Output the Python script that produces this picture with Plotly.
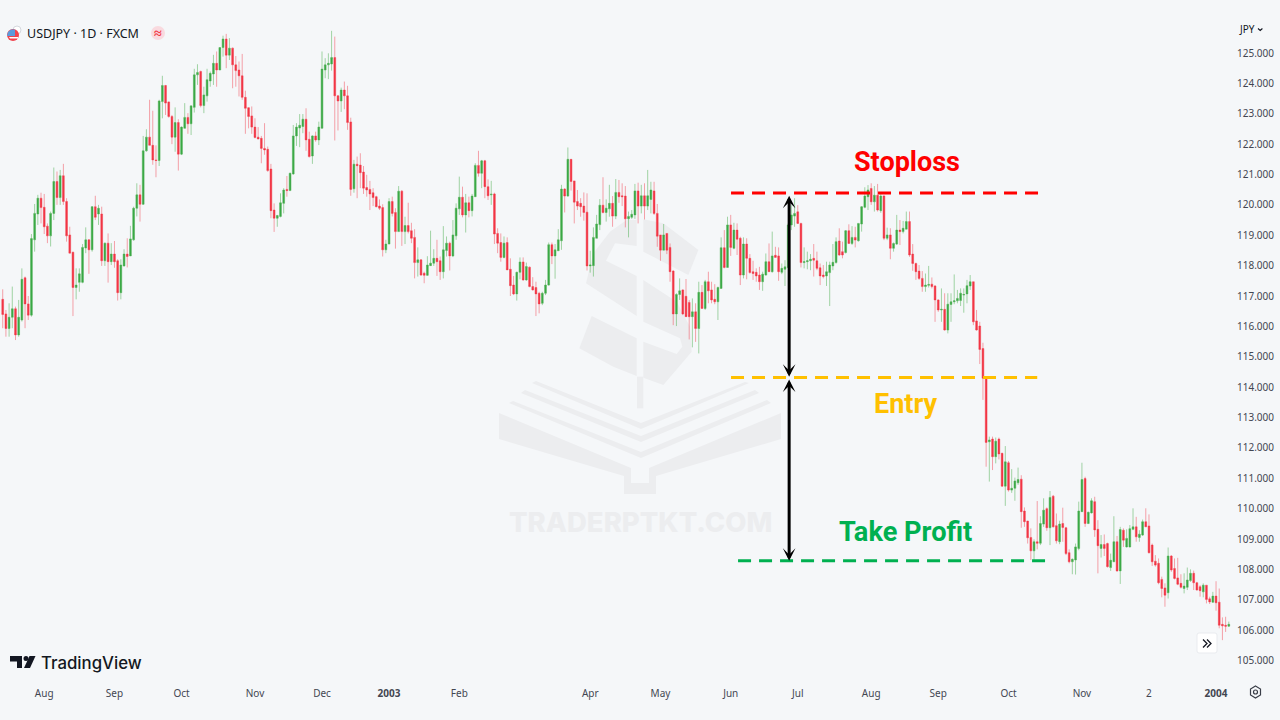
import plotly.graph_objects as go

# daily USDJPY bars, one value per bar
opens = [
    116.89,116.41,115.93,116.30,116.58,115.72,116.21,117.60,116.74,116.37,118.85,119.70,120.22,119.92,119.30,118.98,119.72,120.77,120.24,120.96,
    120.11,119.01,118.44,117.28,117.45,117.45,118.58,118.85,118.52,119.94,119.70,119.70,118.16,118.74,118.13,118.38,118.16,117.11,117.99,118.38,
    118.32,118.85,119.89,120.33,120.02,121.78,122.23,121.96,121.48,121.46,123.40,123.93,123.39,122.91,122.23,122.71,121.67,122.52,122.88,122.67,
    123.21,124.28,124.39,123.27,123.59,124.08,124.31,124.66,124.44,125.18,125.46,124.93,125.16,124.61,124.44,124.25,123.54,123.20,122.93,122.56,
    122.23,122.19,121.86,121.83,121.18,119.83,119.56,119.62,120.05,120.51,120.47,121.02,122.27,122.53,122.58,122.82,122.16,121.61,122.27,122.14,
    122.52,124.44,124.61,124.64,124.85,123.59,123.42,123.78,123.59,122.73,120.53,121.34,121.31,121.08,120.57,120.51,120.40,120.27,119.96,119.91,
    118.52,118.71,120.11,119.75,119.12,120.45,119.12,119.32,119.15,118.93,118.10,118.19,117.75,117.68,118.00,118.08,118.24,118.16,117.80,118.50,
    118.74,118.32,118.98,119.87,120.25,119.67,120.07,119.81,120.27,121.30,121.04,121.45,120.60,120.33,120.36,119.06,118.76,118.27,118.76,117.88,
    117.36,117.07,117.78,118.12,117.53,117.95,117.31,117.28,117.09,116.76,117.09,117.36,118.69,118.32,118.49,118.82,120.52,120.29,121.50,120.79,
    120.11,120.05,119.96,119.76,117.99,118.00,118.90,119.35,119.99,119.75,119.87,120.05,119.63,120.41,120.30,120.29,119.54,119.59,119.67,120.46,
    119.96,120.30,119.96,120.18,120.46,119.72,119.01,118.51,119.06,118.60,117.82,116.41,117.05,117.20,116.99,116.79,116.32,116.48,115.93,117.12,
    116.59,117.47,117.20,116.89,116.81,117.25,118.59,117.94,119.34,118.57,119.17,118.90,117.69,118.71,118.24,117.80,117.78,117.69,117.47,117.69,
    118.13,117.80,118.34,118.32,117.78,117.88,117.94,119.34,119.63,119.77,119.39,118.10,118.13,118.16,118.24,118.16,117.93,117.69,117.66,117.77,
    117.99,118.10,118.81,118.46,118.43,119.15,118.73,118.93,118.82,119.37,119.92,120.27,120.54,120.10,120.32,119.81,120.29,118.90,119.01,118.57,
    118.71,119.17,119.12,119.20,119.45,118.38,118.07,117.82,117.58,117.31,117.35,117.39,117.33,116.87,116.54,116.56,115.88,116.72,116.81,116.84,
    116.85,117.03,117.07,117.33,117.47,116.18,116.01,115.27,114.29,112.20,112.29,111.71,112.29,111.82,110.74,111.51,110.61,110.67,110.85,110.97,
    109.92,109.59,109.05,108.61,108.91,108.86,109.49,110.00,109.37,110.41,109.44,108.91,109.51,109.37,108.55,108.25,108.31,108.69,109.90,110.99,
    109.51,109.86,110.23,109.32,108.69,108.82,108.85,108.06,108.25,108.91,107.95,109.29,108.74,108.74,109.32,109.40,109.05,109.13,109.57,109.43,
    108.80,108.27,108.20,107.67,107.39,107.23,108.44,108.03,107.72,107.54,107.37,107.41,107.63,107.87,107.56,107.43,107.26,107.48,107.03,106.92,
    107.12,106.92,106.19,106.16,106.13,
]
highs = [
    117.22,116.54,116.76,117.31,116.65,116.87,117.91,117.64,117.00,119.04,120.03,120.33,120.40,120.36,119.39,119.78,121.23,121.10,121.15,121.35,
    120.22,119.28,118.46,117.91,117.91,118.71,119.26,118.87,119.96,120.30,120.00,119.94,118.76,119.06,118.74,118.81,118.21,118.21,118.54,118.90,
    119.31,119.94,120.71,120.66,122.27,122.49,123.46,123.10,121.96,123.46,124.25,123.95,123.40,122.96,123.21,122.82,122.58,123.35,123.02,123.26,
    124.48,124.63,124.42,123.89,124.48,124.39,124.94,125.05,125.18,125.57,125.63,125.49,125.18,124.90,124.72,124.97,123.76,123.21,123.24,122.85,
    122.56,122.27,122.69,121.92,121.35,120.05,119.67,120.38,120.55,120.95,121.06,122.63,122.69,122.99,122.99,123.18,122.41,122.29,122.41,122.74,
    125.05,124.83,124.99,125.73,125.54,123.62,123.86,124.06,123.92,122.87,121.48,121.59,121.70,121.28,120.99,120.79,120.55,120.30,120.18,120.02,
    118.85,120.22,120.27,119.89,120.62,120.49,119.61,120.07,119.41,119.20,118.60,118.21,117.80,118.31,119.15,118.54,118.85,118.30,119.30,118.96,
    118.79,119.50,120.05,120.93,120.60,120.36,120.27,120.36,121.37,121.78,121.48,121.48,120.84,120.79,120.40,119.23,119.06,118.96,118.93,118.24,
    117.66,117.80,118.27,118.27,118.10,117.97,117.62,117.47,117.14,117.14,117.53,118.76,118.76,118.71,119.20,120.66,120.55,121.89,121.50,120.79,
    120.49,120.22,120.41,120.38,118.49,119.26,119.67,120.19,120.91,120.18,120.66,120.29,120.85,120.82,120.71,120.62,119.78,119.83,120.69,120.73,
    120.66,120.71,121.15,120.76,120.76,120.03,119.01,119.37,119.06,118.73,117.85,117.09,117.58,117.22,117.56,116.87,116.92,116.76,117.47,117.36,
    117.53,117.80,117.47,117.39,117.31,118.93,119.17,119.61,119.67,119.41,119.39,118.95,118.93,118.90,118.38,118.16,117.91,117.96,117.80,118.40,
    118.73,119.12,118.62,118.60,118.07,118.18,119.39,119.99,120.22,119.99,119.41,118.60,118.46,118.38,118.71,118.46,118.07,118.02,118.13,118.13,
    118.71,118.93,119.23,118.79,119.17,119.36,119.30,119.28,119.39,119.96,120.58,120.65,120.71,120.62,120.69,120.38,120.32,119.25,119.23,118.76,
    119.67,119.50,119.47,119.78,119.78,118.71,118.10,118.02,117.82,117.74,117.99,117.61,117.36,116.89,117.25,117.09,117.09,117.09,117.71,117.20,
    117.25,117.25,117.53,117.69,117.47,116.54,116.15,115.46,114.29,112.37,112.37,112.34,112.34,111.84,112.06,111.57,111.30,111.02,111.35,111.10,
    110.04,109.60,109.35,108.99,110.25,109.75,110.34,110.04,110.58,110.45,109.84,109.60,110.03,109.40,108.66,108.36,108.85,110.23,111.51,111.05,
    109.90,110.34,110.39,109.62,109.13,109.15,108.88,108.52,109.75,109.10,109.40,109.35,109.32,109.46,110.01,109.73,109.29,109.64,110.01,109.81,
    108.85,108.47,108.36,107.76,107.54,108.72,108.47,108.36,108.38,107.84,107.87,108.06,108.00,107.96,107.59,107.48,107.54,107.48,107.10,107.26,
    107.61,107.37,106.42,106.44,106.28,
]
lows = [
    115.94,115.66,115.66,115.94,115.55,115.66,116.16,115.94,116.21,116.32,118.46,119.34,119.39,119.04,118.74,118.63,119.50,120.00,120.00,120.00,
    118.79,118.41,116.34,116.89,117.14,117.42,118.41,117.73,118.46,119.50,119.34,117.99,117.99,117.44,118.02,117.93,116.85,116.89,117.97,117.94,
    118.32,118.82,119.62,119.45,120.00,121.75,121.96,121.32,120.91,121.28,122.85,122.96,122.87,122.00,121.75,121.13,121.64,122.52,122.34,122.30,
    123.04,123.95,123.21,123.02,123.40,123.89,123.95,123.89,124.44,124.88,124.50,124.77,123.84,123.89,123.57,123.46,122.34,122.52,122.34,122.19,
    122.16,121.37,121.65,121.09,119.56,119.11,119.28,119.59,119.72,120.27,120.47,120.99,121.94,121.90,122.36,121.78,121.56,121.35,122.08,121.97,
    122.52,124.17,124.14,124.42,122.12,122.45,123.06,123.15,122.47,120.30,120.40,120.22,120.55,120.36,120.27,119.83,119.96,119.92,119.83,118.30,
    118.41,118.71,119.62,118.56,119.12,118.65,118.71,119.06,118.74,117.58,117.64,117.66,117.42,117.66,117.99,117.99,117.66,117.53,117.58,118.30,
    117.84,118.28,118.85,119.67,119.59,119.09,119.59,119.62,120.27,120.93,120.55,120.22,120.16,120.00,118.71,118.41,118.13,118.24,117.86,117.00,
    117.03,116.85,117.55,117.50,117.50,117.29,117.18,116.34,116.43,116.70,117.03,117.34,118.05,117.57,118.49,118.52,119.75,120.27,120.47,119.39,
    119.83,119.61,119.48,117.84,117.77,117.64,118.90,119.17,119.72,119.45,119.61,119.28,119.53,120.07,119.96,119.26,118.93,119.54,119.54,119.39,
    119.72,119.52,119.83,119.72,119.67,118.62,118.16,118.51,118.38,117.47,116.04,116.01,116.87,116.37,116.32,115.57,115.31,115.49,115.11,116.59,
    116.54,116.76,116.76,116.73,116.21,117.25,117.91,117.94,118.32,118.54,118.35,117.36,117.58,117.55,117.74,117.53,117.47,117.20,117.17,117.67,
    117.80,117.77,118.27,117.50,117.72,117.33,117.91,119.17,119.28,119.37,117.94,117.91,117.88,117.85,117.64,117.85,117.36,117.58,117.33,116.67,
    117.85,118.07,118.32,118.24,118.40,118.71,118.68,118.60,118.79,119.12,119.89,119.83,120.00,119.78,119.78,119.74,118.84,118.84,118.21,118.46,
    118.68,118.68,119.06,119.20,118.29,117.83,117.53,117.53,117.14,117.14,117.28,117.25,116.15,116.48,116.15,115.86,115.77,116.15,116.73,116.76,
    116.67,116.45,116.76,117.20,116.04,115.86,114.76,113.58,111.38,110.89,111.27,111.49,111.62,110.72,110.09,110.56,110.52,110.26,110.78,109.37,
    109.40,108.85,108.31,108.31,108.66,108.80,109.40,109.27,108.80,109.38,108.85,108.83,108.91,108.47,108.20,107.84,107.83,108.63,109.90,109.40,
    109.49,109.84,109.07,107.87,108.39,108.44,108.06,107.95,108.25,107.92,107.52,108.74,108.72,108.72,109.29,108.91,108.91,109.10,109.40,108.52,
    108.11,108.09,107.51,107.08,106.77,107.04,107.92,107.67,107.48,107.37,107.21,107.32,107.59,107.32,107.30,107.10,107.08,106.88,106.86,106.90,
    106.64,106.06,105.67,105.94,106.11,
]
closes = [
    116.39,115.93,116.30,116.58,115.72,116.30,117.55,116.74,116.37,118.89,119.72,120.22,119.91,119.28,118.98,119.72,120.77,120.24,120.96,120.11,
    118.98,118.41,117.28,117.36,117.73,118.60,118.85,118.52,119.94,119.59,119.89,118.16,118.74,118.13,118.38,118.13,117.11,118.02,118.38,118.30,
    118.88,119.89,120.33,120.02,121.78,122.23,121.96,121.48,121.46,123.42,123.93,123.35,122.91,122.23,122.71,121.67,122.56,122.88,122.67,123.26,
    124.28,124.36,123.27,123.62,124.12,124.33,124.66,124.44,125.18,125.46,124.93,125.16,124.61,124.42,124.25,123.54,123.18,122.91,122.56,122.22,
    122.17,121.86,121.81,121.13,119.81,119.56,119.65,120.07,120.49,120.47,121.04,122.27,122.56,122.62,122.82,122.14,121.59,122.27,122.14,122.56,
    124.47,124.61,124.66,124.85,123.59,123.42,123.78,123.59,122.71,120.51,121.34,121.29,121.06,120.55,120.49,120.36,120.24,119.94,119.89,118.52,
    118.71,120.11,119.72,119.12,120.45,119.12,119.32,119.12,118.90,118.10,118.19,117.69,117.68,118.02,118.08,118.24,118.13,117.80,118.52,118.74,
    118.32,119.01,119.89,120.25,119.67,120.07,119.81,120.29,121.30,121.04,121.45,120.60,120.30,120.35,119.04,118.74,118.27,118.74,117.86,117.34,
    117.07,117.78,118.12,117.53,117.97,117.31,117.20,117.07,116.74,117.09,117.36,118.69,118.32,118.52,118.85,120.52,120.29,121.50,120.77,120.09,
    119.96,119.94,119.75,117.99,118.02,118.93,119.37,119.99,119.75,119.89,120.05,119.63,120.41,120.27,120.27,119.54,119.62,119.69,120.46,119.96,
    120.30,119.96,120.30,120.49,119.72,118.97,118.51,119.01,118.51,117.80,116.41,117.05,117.17,116.41,116.32,116.32,116.48,115.93,117.12,116.59,
    117.47,117.17,116.87,116.81,117.28,118.59,117.94,119.34,118.60,119.17,118.87,117.69,118.71,118.24,117.77,117.74,117.66,117.47,117.72,118.13,
    117.80,118.32,118.27,117.80,117.91,117.96,119.34,119.67,119.72,119.39,118.10,118.13,118.16,118.21,118.18,117.91,117.66,117.64,117.80,118.02,
    118.11,118.79,118.35,118.35,119.15,118.73,118.93,118.84,119.39,119.94,120.29,120.49,120.10,120.32,119.83,120.29,118.90,119.01,118.57,118.73,
    119.17,119.12,119.23,119.45,118.35,118.07,117.80,117.58,117.31,117.36,117.38,117.31,116.87,116.54,116.56,115.88,116.73,116.81,116.84,116.92,
    117.09,117.05,117.34,117.47,116.15,115.88,115.24,114.29,112.18,112.26,111.71,112.22,111.80,110.74,111.54,110.61,110.67,110.91,110.96,109.90,
    109.57,109.04,108.61,108.91,108.86,109.51,109.95,109.37,110.37,109.40,108.94,109.49,109.38,108.52,108.25,108.33,108.74,109.92,110.96,109.51,
    109.88,110.26,109.30,108.78,108.82,108.69,108.09,108.30,108.91,107.95,109.31,108.96,109.02,109.34,109.40,109.07,109.16,109.57,109.40,108.55,
    108.25,108.14,107.56,107.37,107.15,108.44,107.98,107.70,107.51,107.41,107.45,107.65,107.87,107.56,107.32,107.30,107.48,107.01,106.93,107.12,
    106.90,106.16,106.14,106.13,106.19,
]

# month labels on the time axis, with the bar they sit under
tick_bars = [13, 35, 56, 79, 100, 121, 143, 184, 206, 228, 249, 272, 293, 315, 338, 359, 380]
tick_labels = ["Aug", "Sep", "Oct", "Nov", "Dec", "<b>2003</b>", "Feb", "Apr", "May", "Jun", "Jul",
               "Aug", "Sep", "Oct", "Nov", "2", "<b>2004</b>"]
price_ticks = list(range(105, 126))

stoploss_level = 120.39
entry_level = 114.32
takeprofit_level = 108.28

BG = "#f5f7f9"
MARK = "#ecedef"
INK = "#131722"
PLOT_W = 1232
PLOT_H = 680


def px(x):
    return x / PLOT_W


def py(y):
    return 1 - y / PLOT_H


def path_of(points, closed=True):
    d = "M " + " L ".join(f"{px(x):.5f} {py(y):.5f}" for x, y in points)
    return d + " Z" if closed else d


def poly(points, color, layer="below"):
    return dict(type="path", path=path_of(points), xref="paper", yref="paper", fillcolor=color,
                line=dict(width=0), layer=layer)


def stroke(points, color, width, closed=False):
    return dict(type="path", path=path_of(points, closed), xref="paper", yref="paper",
                line=dict(color=color, width=width), layer="above")


def dot(x0, x1, y0, y1, fill, line=None):
    return dict(type="circle", xref="paper", yref="paper", x0=px(x0), x1=px(x1), y0=py(y0), y1=py(y1),
                fillcolor=fill, line=line or dict(width=0), layer="above")


def zoomed(points):
    # watermark outline was traced on a 3x crop at (480, 210)
    return [(480 + x / 3, 210 + y / 3) for x, y in points]


fig = go.Figure(
    go.Candlestick(
        x=list(range(len(closes))),
        open=opens,
        high=highs,
        low=lows,
        close=closes,
        increasing=dict(line=dict(color="rgba(76,175,80,0.5)", width=1), fillcolor="#38a845"),
        decreasing=dict(line=dict(color="rgba(242,54,69,0.45)", width=1), fillcolor="#f23645"),
        whiskerwidth=0,
        hoverinfo="skip",
    )
)

gear = [(1255.5, 686), (1260.5, 689), (1260.5, 695), (1255.5, 698), (1250.5, 695), (1250.5, 689)]

shapes = [
    # book and dollar watermark
    poly([(499, 413), (499, 439), (624, 476), (624, 494), (656, 494), (656, 476), (781, 439), (781, 413),
          (649, 468), (649, 483), (631, 483), (631, 468)], MARK),
    poly([(509, 403), (513, 401), (641, 452), (767, 400), (771, 403), (641, 458)], MARK),
    poly([(521, 393), (525, 390), (641, 436), (755, 390), (759, 393), (641, 442)], MARK),
    poly([(532, 383), (536, 381), (641, 423), (745, 382), (749, 383), (641, 429)], MARK),
    poly(zoomed([(318, 220), (340, 130), (390, 65), (440, 30), (470, 30), (470, 108), (405, 100), (378, 152),
                 (470, 198), (470, 318)]), MARK),
    poly(zoomed([(490, 28), (550, 40), (655, 120), (625, 195), (490, 125)]), MARK),
    poly(zoomed([(490, 210), (590, 275), (630, 350), (635, 425), (550, 525), (490, 503), (490, 395), (590, 432),
                 (607, 410), (600, 385), (490, 335)]), MARK),
    poly(zoomed([(335, 318), (470, 385), (470, 498), (400, 470), (298, 415)]), MARK),
    poly(zoomed([(471, 500), (490, 500), (490, 595), (471, 595)]), MARK),
    # TradingView logo
    poly([(10, 656), (22, 656), (22, 668), (17, 668), (17, 661.5), (10, 661.5)], INK, "above"),
    poly([(29.5, 656), (35.5, 656), (30, 668), (24, 668)], INK, "above"),
    dot(23.5, 28.5, 656, 661, INK),
    # flag and market status badge
    dot(13, 21, 26, 34, "#ffffff", dict(color="#d5d8dd", width=1)),
    dot(7, 19, 29, 41, "#f0444f"),
    poly([(7, 36), (8, 32), (11, 29.5), (15, 29.5), (15, 36)], "#5b9bdc", "above"),
    poly([(9, 37), (18, 37), (18, 38.4), (10, 38.4)], "#ffffff", "above"),
    dot(151, 165, 26, 40, "#f9dadf"),
    # scroll button
    dict(type="path", xref="paper", yref="paper", layer="above", fillcolor="#ffffff",
         line=dict(color="#e9ebef", width=1),
         path=(f"M {px(1199)} {py(633)} L {px(1215)} {py(633)} Q {px(1217)} {py(633)} {px(1217)} {py(635)} "
               f"L {px(1217)} {py(651)} Q {px(1217)} {py(653)} {px(1215)} {py(653)} L {px(1199)} {py(653)} "
               f"Q {px(1197)} {py(653)} {px(1197)} {py(651)} L {px(1197)} {py(635)} "
               f"Q {px(1197)} {py(633)} {px(1199)} {py(633)} Z")),
    stroke([(1203, 639.5), (1207, 643.5), (1203, 647.5)], INK, 1.3),
    stroke([(1207, 639.5), (1211, 643.5), (1207, 647.5)], INK, 1.3),
    # settings gear
    stroke(gear, "#3a3e48", 1.2, closed=True),
    dot(1253.5, 1257.5, 690, 694, BG, dict(color="#3a3e48", width=1.2)),
    # price scale dropdown caret
    stroke([(1258, 28.5), (1260.2, 30.5), (1262.4, 28.5)], INK, 1.1),
]

# trade levels, drawn over the bars
for level, color, x0, x1 in [
    (stoploss_level, "#ff0000", 228.1, 324.4),
    (entry_level, "#ffc000", 228.1, 324.0),
    (takeprofit_level, "#00b050", 230.3, 326.8),
]:
    shapes.append(dict(type="line", xref="x", yref="y", x0=x0, x1=x1, y0=level, y1=level,
                       line=dict(color=color, width=3, dash="13px,8px"), layer="above"))

fig.update_layout(
    width=1280,
    height=720,
    margin=dict(l=0, r=48, t=0, b=40, autoexpand=False),
    paper_bgcolor=BG,
    plot_bgcolor=BG,
    showlegend=False,
    boxgap=0.2,
    shapes=shapes,
    font=dict(family="Noto Sans", color="#434651", size=10),
    xaxis=dict(
        range=[-0.85, 385],
        rangeslider=dict(visible=False),
        showgrid=False,
        zeroline=False,
        showline=False,
        tickmode="array",
        tickvals=tick_bars,
        ticktext=tick_labels,
        tickangle=0,
        ticks="outside",
        ticklen=4,
        tickcolor="rgba(0,0,0,0)",
    ),
    yaxis=dict(
        side="right",
        range=[104.358, 126.745],
        showgrid=False,
        zeroline=False,
        showline=False,
        tickmode="array",
        tickvals=price_ticks,
        ticktext=[f"{p}.000" for p in price_ticks],
        ticks="outside",
        ticklen=2,
        tickcolor="rgba(0,0,0,0)",
    ),
)


def label(text, x, y, size, color, family="Noto Sans", xanchor="left", weight=None):
    fig.add_annotation(text=text, xref="paper", yref="paper", x=px(x), y=py(y), showarrow=False,
                       xanchor=xanchor, yanchor="middle",
                       font=dict(family=family, size=size, color=color, weight=weight))


label("USDJPY · 1D · FXCM", 25, 33, 12.5, INK)
label("≈", 158, 32, 14, "#f23645", xanchor="center", weight=700)
label("JPY", 1237, 29, 10, INK)
label("TradingView", 39, 663, 16.8, INK, family="Inter", weight=500)
label("<b>Stoploss</b>", 907, 162, 27, "#ff0000", family="Roboto", xanchor="center")
label("<b>Entry</b>", 905.5, 404, 27, "#ffc000", family="Roboto", xanchor="center")
label("<b>Take Profit</b>", 905, 532, 27.2, "#00b050", family="Roboto", xanchor="center")
label("TRADERPTKT.COM", 640.5, 522, 27.5, MARK, family="Inter", xanchor="center", weight=800)

# double arrows between the levels
arrow_bar = 246.3
for y0, y1 in [(stoploss_level - 0.04, entry_level + 0.02), (entry_level - 0.02, takeprofit_level)]:
    fig.add_annotation(x=arrow_bar, y=y1, ax=arrow_bar, ay=y0, xref="x", yref="y", axref="x", ayref="y",
                       text="", showarrow=True, arrowhead=3, arrowside="end+start", arrowsize=0.7,
                       arrowwidth=3, arrowcolor="#000000", standoff=0, startstandoff=0)

fig.write_html("out.html", config={"displayModeBar": False},
               post_script="document.body.style.margin='0';document.body.style.overflow='hidden';")
